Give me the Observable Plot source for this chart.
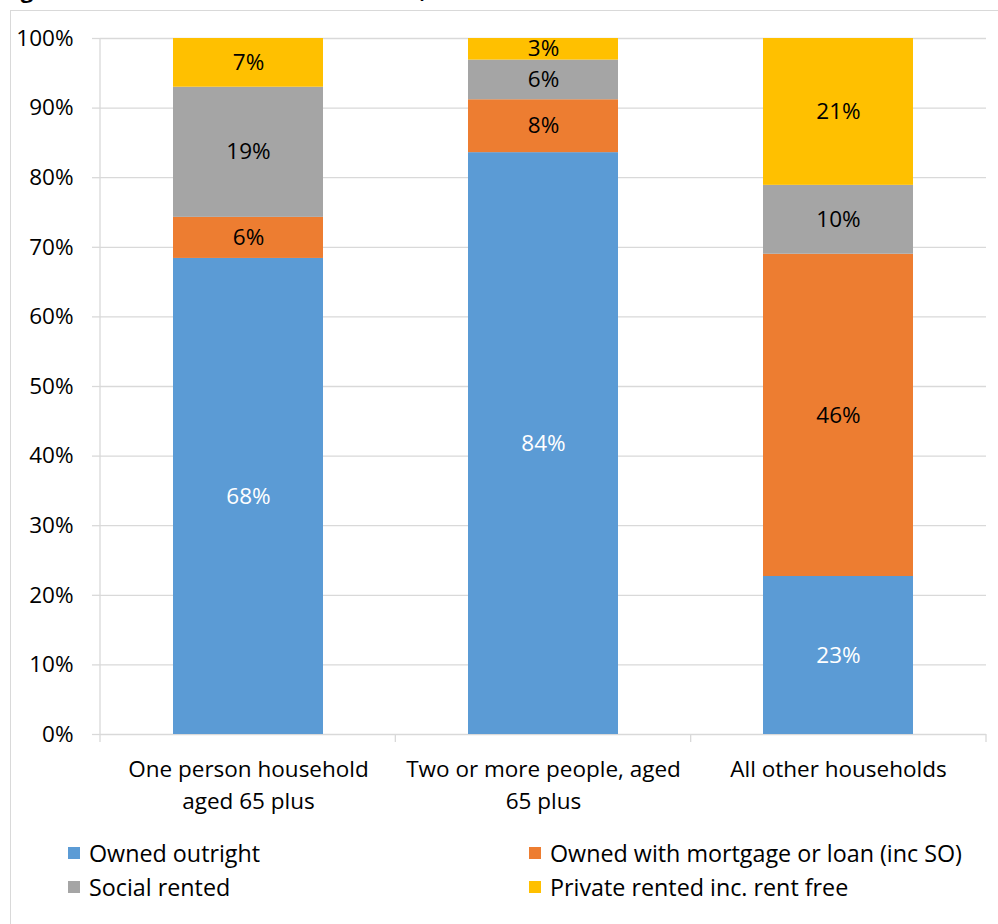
<!DOCTYPE html>
<html><head><meta charset="utf-8">
<script src="https://cdn.jsdelivr.net/npm/d3@7"></script>
<script src="https://cdn.jsdelivr.net/npm/@observablehq/plot@0.6"></script>
<style>
html,body{margin:0;padding:0;background:#fff;overflow:hidden;width:998px;height:924px;}
body{position:relative;font-family:"Open Sans",sans-serif;color:#000;}
#frame{position:absolute;left:10px;top:10px;width:1100px;height:1000px;border:1.5px solid #d9d9d9;box-sizing:border-box;}
#title{position:absolute;left:2px;top:-26px;font-weight:bold;font-size:22px;white-space:nowrap;}
#chart{position:absolute;left:0;top:0;}
#legend{position:absolute;left:68px;top:836px;display:grid;grid-template-columns:461px auto;grid-auto-rows:34px;font-size:23.3px;}
.li{display:flex;align-items:center;white-space:nowrap;}
.sw{width:12px;height:12px;margin-right:9px;flex:none;}
</style></head>
<body>
<div id="frame"></div>
<div id="title">Figure 3.5: Tenure of older households, all tenures</div>
<div id="chart"></div>
<div id="legend"></div>
<script>
const categories = ["One person household aged 65 plus", "Two or more people, aged 65 plus", "All other households"];
const tickLabels = ["One person household\naged 65 plus", "Two or more people, aged\n65 plus", "All other households"];
const tenures = ["Owned outright", "Owned with mortgage or loan (inc SO)", "Social rented", "Private rented inc. rent free"];
const ownedOutright = [68.4, 83.6, 22.7];
const ownedMortgage = [5.9, 7.6, 46.3];
const socialRented = [18.7, 5.7, 9.9];
const privateRented = [7.0, 3.1, 21.1];
const yTicks = [0, 10, 20, 30, 40, 50, 60, 70, 80, 90, 100];

const series = [ownedOutright, ownedMortgage, socialRented, privateRented];
const data = [];
categories.forEach((c, i) => tenures.forEach((t, j) => data.push({category: c, tenure: t, value: series[j][i]})));
const colors = ["#5b9bd5", "#ed7d31", "#a5a5a5", "#ffc000"];
const FS = 22.5;

const chart = Plot.plot({
  width: 998, height: 830,
  marginLeft: 100, marginRight: 12, marginTop: 38, marginBottom: 96,
  style: {fontFamily: "'Open Sans', sans-serif", fontSize: FS + "px", background: "transparent", overflow: "visible", color: "#000"},
  x: {domain: categories, paddingInner: 0.49, paddingOuter: 0.245},
  y: {domain: [0, 100]},
  color: {domain: tenures, range: colors},
  marks: [
    Plot.ruleY(yTicks, {stroke: "#d9d9d9", strokeWidth: 1.3}),
    Plot.axisY(yTicks, {tickSize: 8, tickPadding: 19, stroke: "#d9d9d9", strokeWidth: 1.3, fill: "#000", tickFormat: d => d + "%", fontSize: FS, label: null}),
    Plot.barY(data, {x: "category", y: "value", fill: "tenure", order: tenures}),
    Plot.text(data, Plot.stackY({x: "category", y: "value", z: "tenure", order: tenures,
      text: d => d.tenure === tenures[0] ? Math.round(d.value) + "%" : "", fill: "#fff", fontSize: FS})),
    Plot.text(data, Plot.stackY({x: "category", y: "value", z: "tenure", order: tenures,
      text: d => d.tenure === tenures[0] ? "" : Math.round(d.value) + "%", fill: "#000", fontSize: FS})),
    Plot.axisX({tickSize: 0, tickPadding: 20, tickFormat: c => tickLabels[categories.indexOf(c)], lineHeight: 32 / FS, fill: "#000", fontSize: FS, label: null}),
    (index, scales, values, dims) => {
      const g = d3.create("svg:g").attr("stroke", "#d9d9d9").attr("stroke-width", 1.3);
      const x0 = dims.marginLeft, x1 = dims.width - dims.marginRight;
      const y0 = scales.y(0), yTop = scales.y(100);
      const step = (x1 - x0) / categories.length;
      g.append("line").attr("x1", x0).attr("x2", x0).attr("y1", yTop).attr("y2", y0 + 8);
      for (let k = 1; k <= categories.length; k++) {
        const xx = x0 + k * step;
        g.append("line").attr("x1", xx).attr("x2", xx).attr("y1", y0).attr("y2", y0 + 8);
      }
      return g.node();
    }
  ]
});
document.getElementById("chart").appendChild(chart);

const legend = document.getElementById("legend");
tenures.forEach((t, j) => {
  const item = document.createElement("div");
  item.className = "li";
  const sw = document.createElement("span");
  sw.className = "sw";
  sw.style.background = colors[j];
  item.appendChild(sw);
  item.appendChild(document.createTextNode(t));
  legend.appendChild(item);
});
</script>
</body></html>
